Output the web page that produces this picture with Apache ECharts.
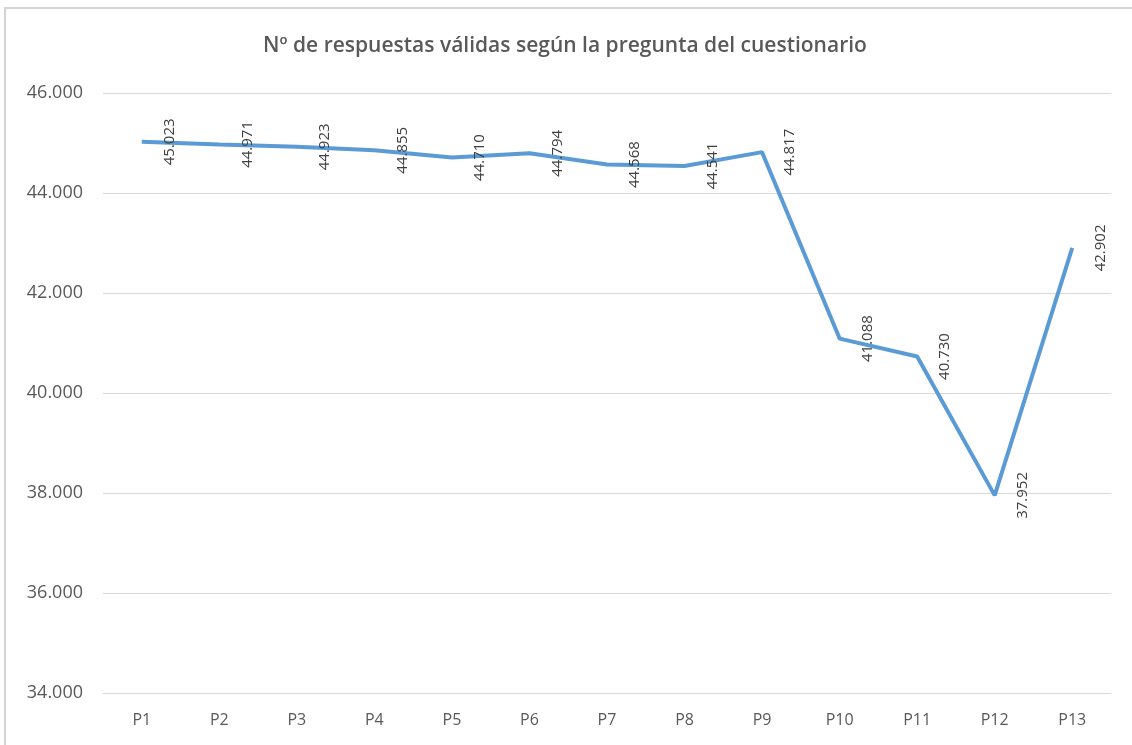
<!DOCTYPE html>
<html>
<head>
<meta charset="utf-8">
<script src="https://cdn.jsdelivr.net/npm/echarts@6/dist/echarts.min.js"></script>
<style>
html, body { margin: 0; padding: 0; background: #fff; }
#frame { position: absolute; left: 4px; top: 7px; width: 1140px; height: 760px; border-left: 2px solid #d4d4d4; border-top: 2px solid #d4d4d4; }
#main { position: absolute; left: 0; top: 0; width: 1132px; height: 745px; }
</style>
</head>
<body>
<div id="frame"></div>
<div id="main"></div>
<script>
var preguntas = ['P1','P2','P3','P4','P5','P6','P7','P8','P9','P10','P11','P12','P13'];
var respuestas = [45023, 44971, 44923, 44855, 44710, 44794, 44568, 44541, 44817, 41088, 40730, 37952, 42902];
var ejeMin = 34000;
var ejeMax = 46000;
var ejePaso = 2000;

function miles(v){
    return (v/1000).toFixed(3);
}

var myChart = echarts.init(document.getElementById('main'));
var option = {
    animation: false,
    title: {
        text: 'Nº de respuestas válidas según la pregunta del cuestionario',
        left: 560,
        textAlign: 'center',
        top: 31,
        textStyle: { fontFamily: 'Open Sans', fontSize: 21, fontWeight: 600, color: '#595959' }
    },
    grid: { left: 103, right: 21, top: 93, bottom: 52 },
    xAxis: {
        type: 'category',
        data: preguntas,
        axisLine: { lineStyle: { color: '#d9d9d9', width: 1 } },
        axisTick: { show: false },
        axisLabel: { color: '#595959', fontFamily: 'Open Sans', fontSize: 16, margin: 19 }
    },
    yAxis: {
        type: 'value',
        min: ejeMin,
        max: ejeMax,
        interval: ejePaso,
        axisLine: { show: false },
        axisTick: { show: false },
        splitLine: { lineStyle: { color: '#d9d9d9', width: 1 } },
        axisLabel: { color: '#595959', fontFamily: 'Open Sans', fontSize: 18, margin: 20, formatter: miles }
    },
    series: [{
        type: 'line',
        data: respuestas,
        symbol: 'circle',
        symbolSize: 0.1,
        showSymbol: true,
        lineStyle: { color: '#5b9bd5', width: 4 },
        itemStyle: { color: '#5b9bd5' },
        label: {
            show: true,
            position: 'right',
            distance: 28,
            rotate: 90,
            align: 'center',
            verticalAlign: 'middle',
            color: '#404040',
            fontFamily: 'Open Sans',
            fontSize: 15,
            formatter: function(p){ return miles(p.value); }
        }
    }]
};
myChart.setOption(option);
</script>
</body>
</html>
